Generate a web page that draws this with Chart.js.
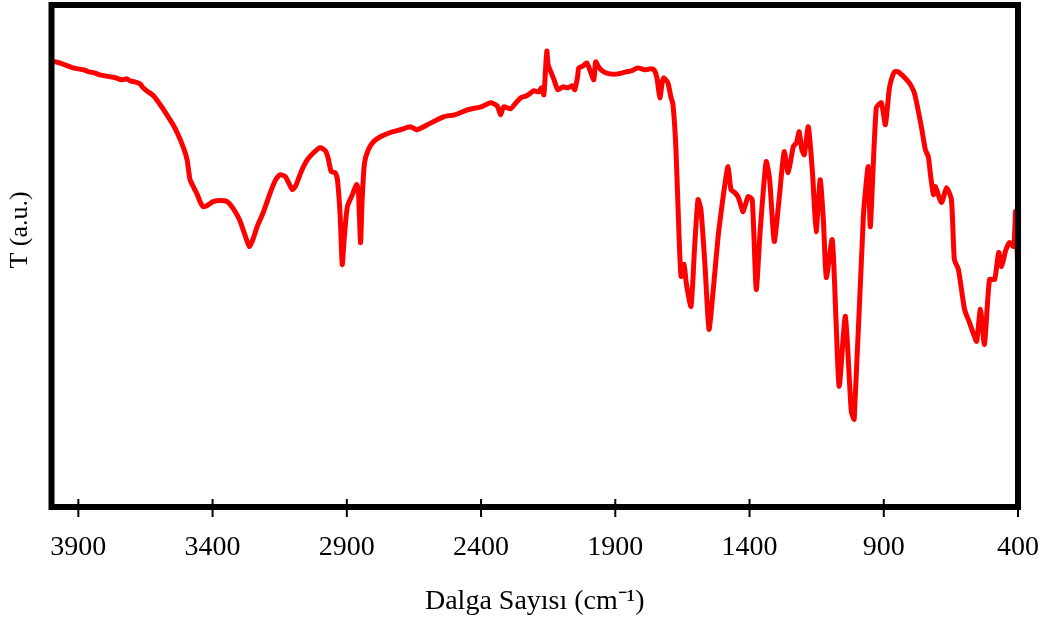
<!DOCTYPE html>
<html>
<head>
<meta charset="utf-8">
<script src="https://cdn.jsdelivr.net/npm/chart.js"></script>
<style>
  body { margin: 0; background: #fff; }
  #wrap { width: 1051px; height: 621px; }
</style>
</head>
<body>
<div id="wrap"><canvas id="ftir"></canvas></div>
<script>
// FTIR spectrum, values
const wavenumbers = [
  4000, 3970, 3940, 3920, 3900, 3880, 3860, 3840, 3820, 3800,
  3780, 3760, 3740, 3720, 3707, 3690, 3670, 3659, 3640, 3620,
  3595, 3570, 3547, 3530, 3510, 3495, 3484, 3470, 3457, 3445,
  3435, 3420, 3398, 3370, 3346, 3323, 3300, 3280, 3263, 3250,
  3234, 3210, 3185, 3165, 3148, 3129, 3115, 3103, 3090, 3070,
  3047, 3020, 2999, 2980, 2970, 2958, 2943, 2935, 2925, 2917,
  2910, 2898, 2879, 2864, 2857, 2849, 2843, 2834, 2820, 2801,
  2775, 2740, 2700, 2663, 2640, 2600, 2540, 2498, 2450, 2400,
  2364, 2340, 2327, 2316, 2290, 2270, 2252, 2230, 2204, 2185,
  2175, 2166, 2160, 2155, 2150, 2140, 2128, 2114, 2095, 2077,
  2060, 2051, 2040, 2036, 2020, 2006, 1995, 1980, 1973, 1960,
  1943, 1920, 1890, 1860, 1840, 1816, 1790, 1770, 1756, 1745,
  1734, 1725, 1719, 1704, 1693, 1685, 1674, 1663, 1655, 1644,
  1635, 1618, 1605, 1592, 1581, 1565, 1551, 1535, 1517, 1506,
  1492, 1480, 1469, 1455, 1443, 1433, 1424, 1405, 1390, 1375,
  1360, 1338, 1325, 1308, 1290, 1271, 1256, 1237, 1225, 1215,
  1205, 1196, 1181, 1165, 1152, 1137, 1125, 1114, 1092, 1078,
  1066, 1043, 1021, 1010, 976, 958, 950, 928, 909, 894,
  880, 872, 860, 846, 808, 786, 760, 745, 734, 726,
  715, 708, 685, 666, 648, 637, 622, 599, 581, 565,
  554, 540, 525, 506, 487, 472, 461, 446, 431, 416,
  409, 400
];

const transmittance = [
  90.4, 90.0, 89.4, 89.0, 88.8, 88.6, 88.2, 88.0, 87.6, 87.4,
  87.2, 87.0, 86.6, 86.8, 86.4, 86.2, 85.8, 85.0, 84.2, 83.4,
  81.6, 79.6, 77.6, 75.8, 73.2, 70.6, 66.6, 65.0, 63.6, 62.0,
  61.2, 61.4, 62.2, 62.4, 62.2, 60.8, 58.6, 55.6, 53.2, 54.6,
  57.2, 60.2, 64.0, 66.6, 67.6, 67.2, 65.8, 64.6, 65.4, 68.2,
  70.6, 72.2, 73.0, 72.4, 71.0, 68.2, 68.0, 66.6, 59.6, 49.6,
  54.6, 61.2, 63.6, 65.6, 64.6, 54.0, 62.6, 70.0, 72.6, 74.2,
  75.2, 76.0, 76.6, 77.2, 76.6, 77.6, 79.2, 79.6, 80.6, 81.2,
  82.0, 81.4, 79.6, 81.2, 80.8, 82.0, 83.0, 83.4, 84.4, 84.2,
  85.0, 83.6, 88.6, 92.4, 89.6, 88.2, 86.6, 84.6, 85.2, 85.0,
  85.4, 84.6, 87.4, 89.0, 89.4, 90.0, 88.6, 86.6, 90.2, 89.0,
  88.2, 87.8, 87.8, 88.2, 88.4, 89.0, 88.6, 88.8, 88.6, 87.0,
  83.0, 86.2, 87.0, 86.0, 83.2, 81.6, 72.6, 56.0, 47.2, 49.6,
  45.6, 41.2, 52.6, 62.6, 60.6, 48.6, 36.6, 44.6, 55.2, 60.0,
  65.6, 69.2, 64.6, 64.0, 63.2, 61.6, 60.2, 63.2, 62.6, 44.6,
  56.6, 70.2, 66.6, 54.2, 62.6, 72.2, 68.0, 73.2, 74.0, 76.2,
  72.6, 71.6, 77.2, 67.6, 56.2, 66.6, 58.6, 47.0, 54.6, 38.6,
  25.2, 39.2, 20.2, 18.6, 59.2, 69.2, 57.2, 81.0, 82.0, 77.6,
  84.6, 86.6, 88.2, 88.2, 86.2, 84.0, 77.2, 72.6, 71.2, 67.6,
  63.6, 65.2, 62.0, 65.0, 62.6, 50.6, 48.6, 40.6, 38.0, 35.6,
  34.2, 40.6, 33.6, 46.6, 46.6, 52.0, 49.2, 52.4, 54.0, 53.2,
  60.2, 47.2
];

const tickValues = [3900, 3400, 2900, 2400, 1900, 1400, 900, 400];

const points = wavenumbers.map((w, i) => ({ x: w, y: transmittance[i] }));

// black box round the plot plus tick marks crossing the bottom edge
const framePlugin = {
  id: 'frame',
  afterDatasetsDraw(chart) {
    const { ctx, chartArea: a, scales: { x } } = chart;
    ctx.save();
    ctx.strokeStyle = '#000';
    ctx.lineWidth = 6;
    ctx.strokeRect(a.left, a.top, a.right - a.left, a.bottom - a.top);
    ctx.lineWidth = 2;
    x.ticks.forEach(t => {
      const px = x.getPixelForValue(t.value);
      ctx.beginPath();
      ctx.moveTo(px, a.bottom - 8);
      ctx.lineTo(px, a.bottom + 10);
      ctx.stroke();
    });
    ctx.restore();
  }
};

const serif = "'Liberation Serif', 'Times New Roman', serif";

new Chart(document.getElementById('ftir'), {
  type: 'line',
  data: {
    datasets: [{
      data: points,
      borderColor: '#ff0000',
      borderWidth: 5,
      pointRadius: 0,
      tension: 0.2,
      fill: false
    }]
  },
  options: {
    responsive: true,
    maintainAspectRatio: false,
    animation: false,
    layout: { padding: { top: 5, right: 33, left: 0, bottom: 0 } },
    plugins: { legend: { display: false }, tooltip: { enabled: false } },
    scales: {
      x: {
        type: 'linear',
        reverse: true,
        min: 400,
        max: 4000,
        afterBuildTicks: scale => { scale.ticks = tickValues.map(v => ({ value: v })); },
        afterFit: scale => {
          scale.height = 114;
          scale.paddingLeft = 0;
          scale.paddingRight = 0;
        },
        grid: { display: false, drawTicks: false },
        border: { display: false },
        ticks: {
          callback: v => String(v),
          color: '#000',
          padding: 24,
          maxRotation: 0,
          autoSkip: false,
          font: { family: serif, size: 28 }
        },
        title: {
          display: true,
          text: 'Dalga Sayısı (cm⁻¹)',
          color: '#000',
          font: { family: serif, size: 28 },
          padding: { top: 2, bottom: 3 }
        }
      },
      y: {
        min: 1,
        max: 101.6,
        afterFit: scale => {
          scale.width = 51.5;
          scale.paddingTop = 0;
          scale.paddingBottom = 0;
        },
        grid: { display: false, drawTicks: false },
        border: { display: false },
        ticks: { display: false },
        title: {
          display: true,
          text: '\u00a0\u00a0\u00a0\u00a0\u00a0\u00a0\u00a0\u00a0T (a.u.)',
          color: '#000',
          font: { family: serif, size: 26 },
          padding: { top: 5, bottom: 0 }
        }
      }
    }
  },
  plugins: [framePlugin]
});
</script>
</body>
</html>
